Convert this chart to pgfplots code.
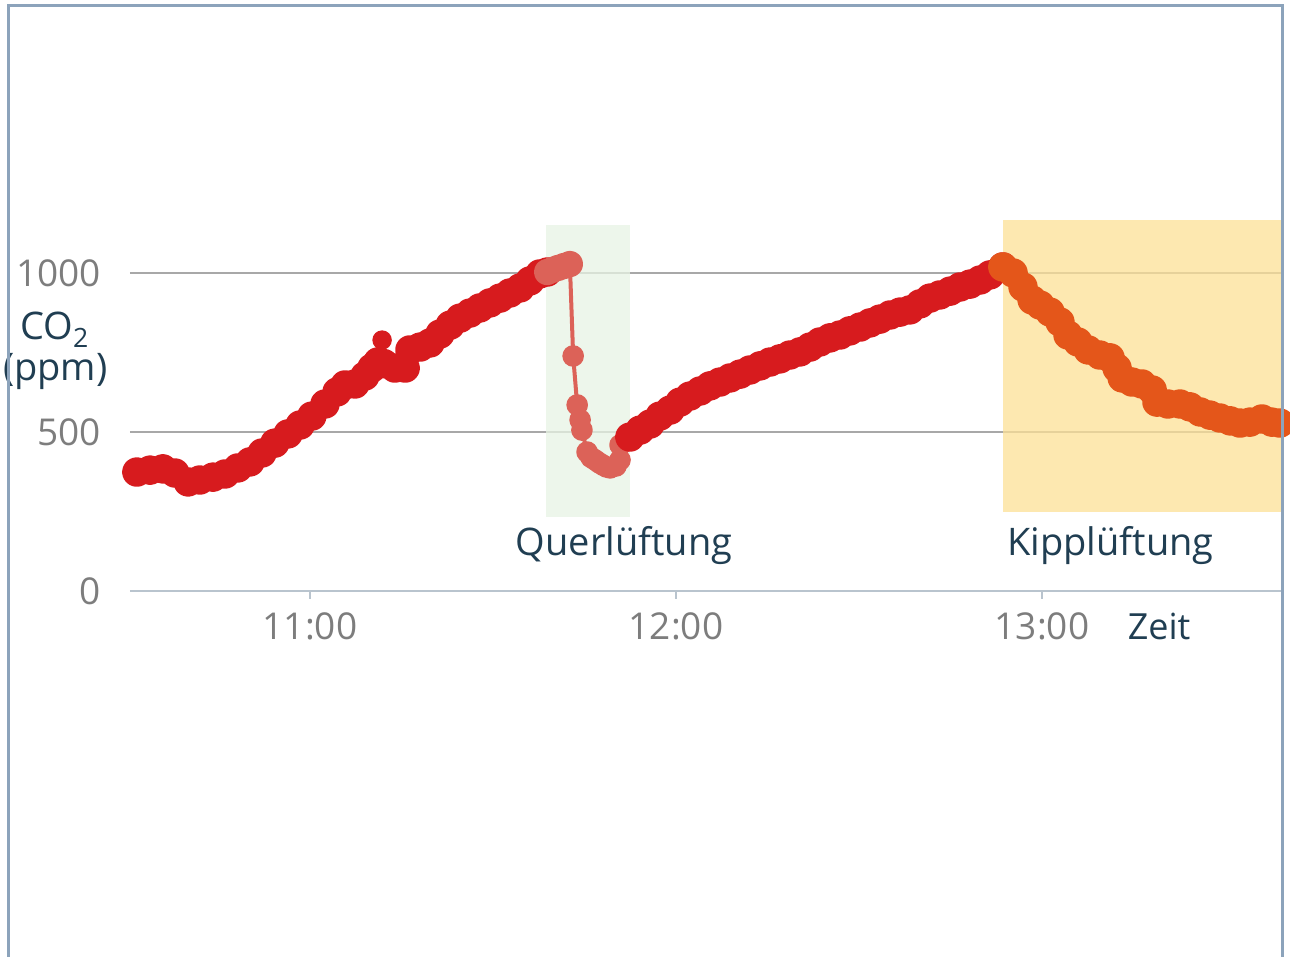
\documentclass[border=0pt]{standalone}
\usepackage{fontspec}
\setmainfont{Open Sans}
\usepackage{pgfplots}
\pgfplotsset{compat=1.18}
\definecolor{cred}{RGB}{215,27,30}
\definecolor{clight}{RGB}{220,98,88}
\definecolor{corange}{RGB}{228,86,26}
\definecolor{cgreen}{RGB}{231,243,228}
\definecolor{cyellow}{RGB}{252,224,150}
\definecolor{cframe}{RGB}{140,163,187}
\definecolor{ctext}{RGB}{32,62,82}
\definecolor{ctick}{RGB}{125,125,125}
\definecolor{cgrid}{RGB}{168,168,168}
\definecolor{caxis}{RGB}{185,196,206}
\begin{document}
\begin{tikzpicture}
\begin{axis}[
  at={(65pt,183pt)}, anchor=south west,
  scale only axis, width=576pt, height=186pt,
  xmin=10.5082, xmax=13.6557, ymin=0, ymax=1169.8,
  clip=false,
  axis line style={draw=none},
  xtick={11,12,13}, xticklabels={11:00,12:00,13:00},
  xtick pos=bottom, ytick pos=left,
  ytick={500,1000}, yticklabels={500,1000},
  extra y ticks={0}, extra y tick labels={0},
  extra y tick style={grid style={color=caxis, line width=1.2pt}},
  ymajorgrids, grid style={color=cgrid, line width=1pt},
  tick align=outside, major tick length=4pt,
  xtick style={color=caxis, line width=0.8pt},
  ytick style={draw=none},
  tick label style={font=\fontsize{18.5}{18.5}\selectfont, text=ctick},
  yticklabel style={anchor=east, xshift=-7pt},
  xticklabel style={yshift=-3.5pt},
]
% shaded bands
\addplot[fill=cgreen, fill opacity=0.75, draw=none] coordinates {(11.645,233) (11.874,233) (11.874,1151) (11.645,1151)} -- cycle;
\addplot[fill=cyellow, fill opacity=0.75, draw=none] coordinates {(12.893,248) (13.6557,248) (13.6557,1167) (12.893,1167)} -- cycle;
% segment 1 (red)
\addplot[cred, line width=7pt, line join=round, line cap=round, mark=*, mark size=3.9pt, mark options={draw=none, fill=cred}] coordinates {
(10.527,374) (10.563,380) (10.598,384) (10.631,371) (10.667,343) (10.699,349)
(10.735,358) (10.768,368) (10.803,387) (10.836,406) (10.869,434) (10.904,465)
(10.940,494) (10.973,522) (11.005,550) (11.041,588) (11.074,626) (11.096,648)
(11.123,651) (11.150,676) (11.169,701) (11.186,720)
};
\addplot[cred, line width=2.5pt, mark=*, mark size=3.6pt, mark options={draw=none, fill=cred}] coordinates {
(11.194,725) (11.197,789)
};
\addplot[cred, line width=7pt, line join=round, line cap=round, mark=*, mark size=3.9pt, mark options={draw=none, fill=cred}] coordinates {
(11.186,720) (11.202,715)
(11.232,701) (11.260,701) (11.273,758) (11.301,767) (11.328,780) (11.355,808)
(11.383,836) (11.410,858) (11.437,874) (11.464,890) (11.492,906) (11.519,921)
(11.546,937) (11.574,953) (11.601,975) (11.628,997) (11.648,1003)
};
% segment 2 (Querlueftung)
\addplot[clight, line width=6pt, line join=round, mark=*, mark size=3.6pt, mark options={draw=none, fill=clight}] coordinates {
(11.648,1003) (11.663,1010) (11.678,1016) (11.694,1022) (11.710,1028)
};
\addplot[clight, line width=2pt, line join=round, mark=*, mark size=4.4pt, mark options={draw=none, fill=clight}] coordinates {
(11.710,1028) (11.719,739) (11.730,585)
(11.738,538) (11.743,506) (11.757,437) (11.768,420) (11.779,412) (11.790,403) (11.800,396)
(11.810,390) (11.820,387) (11.836,393) (11.847,412) (11.847,459) (11.860,470) (11.874,484)
};
% segment 3 (red)
\addplot[cred, line width=7pt, line join=round, mark=*, mark size=3.9pt, mark options={draw=none, fill=cred}] coordinates {
(11.874,484) (11.902,506) (11.929,525) (11.956,550) (11.984,569) (12.011,594)
(12.038,613) (12.066,629) (12.093,645) (12.120,657) (12.148,670) (12.175,682)
(12.202,695) (12.230,708) (12.257,720) (12.284,730) (12.311,742) (12.339,752)
(12.366,767) (12.393,783) (12.421,796) (12.448,805) (12.475,818) (12.503,830)
(12.530,843) (12.557,855) (12.585,868) (12.612,877) (12.639,884) (12.667,903)
(12.694,921) (12.721,931) (12.749,943) (12.776,956) (12.803,965) (12.831,978)
(12.858,994) (12.893,1019)
};
% segment 4 (orange, Kipplueftung)
\addplot[corange, line width=7pt, line join=round, mark=*, mark size=3.9pt, mark options={draw=none, fill=corange}] coordinates {
(12.893,1019) (12.921,1000) (12.948,956) (12.973,915) (12.995,899) (13.022,877)
(13.049,846) (13.071,805) (13.098,783) (13.126,758) (13.158,742) (13.186,733)
(13.205,701) (13.219,670) (13.246,657) (13.273,651) (13.301,632) (13.314,594)
(13.344,588) (13.377,588) (13.404,579) (13.432,563) (13.459,553) (13.486,544)
(13.514,535) (13.541,528) (13.568,531) (13.601,541) (13.628,531) (13.650,528)
};
% labels
\node[anchor=base, text=ctext, font=\fontsize{19}{19}\selectfont] at (axis cs:11.858,113) {Querlüftung};
\node[anchor=base, text=ctext, font=\fontsize{19}{19}\selectfont] at (axis cs:13.187,113) {Kipplüftung};
\node[anchor=base, text=ctext, font=\fontsize{18}{18}\selectfont] at (axis cs:13.320,-154) {Zeit};
\node[anchor=base, text=ctext, font=\fontsize{19}{19}\selectfont] at (axis cs:10.303,790) {CO\textsubscript{2}};
\node[anchor=base, text=ctext, font=\fontsize{19}{19}\selectfont] at (axis cs:10.304,663) {(ppm)};
\end{axis}
\draw[cframe, line width=1.5pt] (4.25pt,-2pt) -- (4.25pt,475.5pt) -- (641.25pt,475.5pt) -- (641.25pt,-2pt);
\pgfresetboundingbox
\path[use as bounding box] (0,0) rectangle (645pt,478.5pt);
\end{tikzpicture}
\end{document}
